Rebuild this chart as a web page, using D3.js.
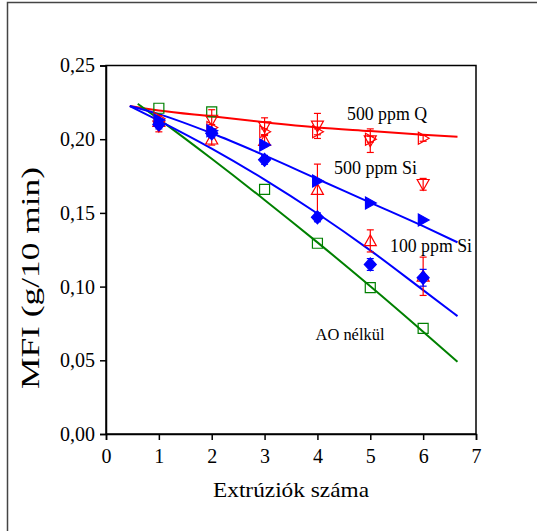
<!DOCTYPE html>
<html>
<head>
<meta charset="utf-8">
<script src="https://cdn.jsdelivr.net/npm/d3@7"></script>
<style>
  html, body { margin: 0; padding: 0; background: #fff; }
  svg { display: block; }
  text { font-family: "Liberation Serif", "Times New Roman", Times, serif; fill: #000; }
</style>
</head>
<body>
<svg id="chart" width="537" height="531"></svg>
<script>
// ---------- data ----------
const extrusions = [1, 2, 3, 4, 5, 6];
const xTicks = [0, 1, 2, 3, 4, 5, 6, 7];
const yTicks = [0, 0.05, 0.10, 0.15, 0.20, 0.25];
const yTickLabels = ["0,00", "0,05", "0,10", "0,15", "0,20", "0,25"];

// AO nélkül (open green squares)
const aoNelkul = [0.221, 0.2185, 0.166, 0.1294, 0.0993, 0.0717];
// 500 ppm Q (open red right triangles)
const q500 = [0.214, 0.208, 0.205, 0.205, 0.200, 0.2006];
const q500Err = [0.002, 0.002, 0.002, 0.002, 0.002, 0.002];
// 500 ppm Si (open red down triangles)
const si500Open = [0.209, 0.213, 0.2085, 0.209, 0.199, 0.1694];
const si500OpenErr = [0.004, 0.007, 0.006, 0.0085, 0.008, 0.004];
// 100 ppm Si (open red up triangles)
const si100Open = [0.212, 0.200, 0.199, 0.1658, 0.131, 0.107];
const si100OpenErr = [0.004, 0.004, 0.004, 0.0173, 0.0075, 0.013];
// 500 ppm Si (filled blue right triangles)
const si500Filled = [0.213, 0.2058, 0.196, 0.1716, 0.1567, 0.1452];
// 100 ppm Si (filled blue diamonds)
const si100Filled = [0.210, 0.204, 0.186, 0.147, 0.115, 0.106];
const si100FilledErr = [0.003, 0.003, 0.003, 0.003, 0.004, 0.0057];

// fitted trend lines
const fitX = [0.45, 1, 2, 3, 4, 5, 6, 6.65];
const fitQ = [0.2225, 0.2195, 0.2155, 0.2115, 0.208, 0.2055, 0.203, 0.2017];
const fitSi500 = [0.2225, 0.217, 0.204, 0.189, 0.173, 0.157, 0.141, 0.130];
const fitSi100 = [0.2225, 0.2126, 0.1936, 0.1726, 0.1496, 0.1246, 0.0976, 0.080];
const fitAOX = [0.6, 1, 2, 3, 4, 5, 6, 6.65];
const fitAO = [0.224, 0.2136, 0.1867, 0.1588, 0.130, 0.1002, 0.0694, 0.049];

const labels = [
  { text: "500 ppm Q", x: 347, y: 119.5, len: 80, size: 18 },
  { text: "500 ppm Si", x: 334, y: 173.5, len: 83, size: 18 },
  { text: "100 ppm Si", x: 390, y: 252, len: 82, size: 18 },
  { text: "AO nélkül", x: 315.5, y: 339.5, len: 69, size: 17 }
];

// ---------- drawing ----------
const svg = d3.select("#chart");
const pL = 106, pR = 476, pT = 65.5, pB = 434;

const x = d3.scaleLinear().domain([0, 7]).range([pL, pR]);
const y = d3.scaleLinear().domain([0, 0.25]).range([pB, pT]);

// outer frame
svg.append("rect").attr("x", 7.5).attr("y", 2.5).attr("width", 600).attr("height", 600)
  .attr("fill", "none").attr("stroke", "#444").attr("stroke-width", 1.5);

// plot box
svg.append("rect").attr("x", pL).attr("y", pT).attr("width", pR - pL).attr("height", pB - pT)
  .attr("fill", "none").attr("stroke", "#000").attr("stroke-width", 1.5);

// axes
const xAxis = d3.axisBottom(x).tickValues(xTicks).tickFormat(d3.format("d")).tickSizeOuter(0).tickSize(6).tickPadding(9);
const gx = svg.append("g").attr("transform", `translate(0,${pB})`).call(xAxis);
const yAxis = d3.axisLeft(y).tickValues(yTicks).tickFormat((d, i) => yTickLabels[i]).tickSizeOuter(0).tickSize(6).tickPadding(5);
const gy = svg.append("g").attr("transform", `translate(${pL},0)`).call(yAxis);
[gx, gy].forEach(g => {
  g.attr("font-family", null).attr("font-size", null);
  g.select(".domain").attr("stroke", "#000").attr("stroke-width", 1.5);
  g.selectAll(".tick line").attr("stroke", "#000").attr("stroke-width", 1.5);
  g.selectAll(".tick text").style("font-family", '"Liberation Serif", "Times New Roman", serif').style("font-size", "20px").attr("fill", "#000");
});

// axis titles
svg.append("text").attr("x", 213).attr("y", 497)
  .attr("textLength", 156).attr("lengthAdjust", "spacingAndGlyphs")
  .style("font-size", "22px").text("Extrúziók száma");
svg.append("text").attr("transform", `translate(39,389) rotate(-90)`)
  .attr("textLength", 222).attr("lengthAdjust", "spacingAndGlyphs")
  .style("font-size", "25px").text("MFI (g/10 min)");

// fit lines
const line = d3.line().x(d => x(d[0])).y(d => y(d[1])).curve(d3.curveMonotoneX);
const fits = [
  { xs: fitX, ys: fitQ, color: "#ff0000" },
  { xs: fitAOX, ys: fitAO, color: "#008000" },
  { xs: fitX, ys: fitSi100, color: "#0000ff" },
  { xs: fitX, ys: fitSi500, color: "#0000ff" }
];
fits.forEach(f => {
  svg.append("path").datum(f.xs.map((v, i) => [v, f.ys[i]]))
    .attr("d", line).attr("fill", "none").attr("stroke", f.color).attr("stroke-width", 2);
});

// marker shapes
function tri(dir, r) {
  if (dir === "up") return `M0,${-r}L${r},${r * 0.8}L${-r},${r * 0.8}Z`;
  if (dir === "down") return `M0,${r}L${r},${-r * 0.8}L${-r},${-r * 0.8}Z`;
  return `M${r},0L${-r * 0.8},${-r}L${-r * 0.8},${r}Z`;
}
const shapes = {
  square: `M-5,-5H5V5H-5Z`,
  diamond: `M0,-6.5L6,0L0,6.5L-6,0Z`,
  up: tri("up", 6),
  down: tri("down", 6),
  right: tri("right", 6)
};

function errorBars(vals, errs, color) {
  const g = svg.append("g").attr("stroke", color).attr("stroke-width", 1.2);
  extrusions.forEach((xv, i) => {
    const cx = x(xv), y1 = y(vals[i] + errs[i]), y2 = y(vals[i] - errs[i]);
    g.append("line").attr("x1", cx).attr("x2", cx).attr("y1", y1).attr("y2", y2);
    g.append("line").attr("x1", cx - 3.5).attr("x2", cx + 3.5).attr("y1", y1).attr("y2", y1);
    g.append("line").attr("x1", cx - 3.5).attr("x2", cx + 3.5).attr("y1", y2).attr("y2", y2);
  });
}
function markers(vals, shape, color, filled) {
  svg.append("g").selectAll("path").data(vals).join("path")
    .attr("transform", (d, i) => `translate(${x(extrusions[i])},${y(d)})`)
    .attr("d", shapes[shape])
    .attr("fill", filled ? color : "none")
    .attr("stroke", color).attr("stroke-width", 1.2);
}

errorBars(q500, q500Err, "#ff0000");
errorBars(si500Open, si500OpenErr, "#ff0000");
errorBars(si100Open, si100OpenErr, "#ff0000");
markers(aoNelkul, "square", "#008000", false);
markers(q500, "right", "#ff0000", false);
markers(si500Open, "down", "#ff0000", false);
markers(si100Open, "up", "#ff0000", false);
markers(si500Filled, "right", "#0000ff", true);
markers(si100Filled, "diamond", "#0000ff", true);
errorBars(si100Filled, si100FilledErr, "#0000ff");

// annotations
svg.append("g").selectAll("text").data(labels).join("text")
  .attr("x", d => d.x).attr("y", d => d.y)
  .attr("textLength", d => d.len).attr("lengthAdjust", "spacingAndGlyphs")
  .style("font-size", d => d.size + "px").text(d => d.text);
</script>
</body>
</html>
